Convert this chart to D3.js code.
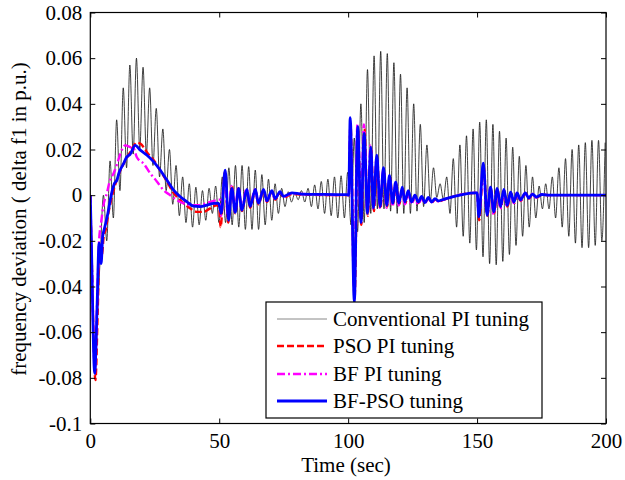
<!DOCTYPE html>
<html><head><meta charset="utf-8">
<script src="https://cdn.jsdelivr.net/npm/d3@7"></script>
<style>
body{margin:0;background:#fff}
svg{display:block}
text{font-family:"Liberation Serif","Times New Roman",serif;fill:#000}
</style>
</head><body>
<svg id="c" width="625" height="480"></svg>
<script>
// ---------------- data ----------------
const xTicks = [0, 50, 100, 150, 200];
const yTicks = [-0.1, -0.08, -0.06, -0.04, -0.02, 0, 0.02, 0.04, 0.06, 0.08];
const yTickLabels = ["-0.1", "-0.08", "-0.06", "-0.04", "-0.02", "0", "0.02", "0.04", "0.06", "0.08"];
const seriesNames = ["Conventional PI tuning", "PSO PI tuning", "BF PI tuning", "BF-PSO tuning"];
const xLabel = "Time (sec)";
const yLabel = "frequency deviation ( delta f1 in p.u.)";

// Conventional PI: initial dip, then oscillation extrema (sampled once per cycle)
const convStart = [[0, 0], [0.6, -0.035], [1.9, -0.078], [2.9, -0.05]];
const convPeriod = 2.56;
const convPeakT0 = 5.1;
const convTroughT0 = 3.82;
const convPeaks = [
  0.0, 0.015, 0.033, 0.047, 0.057, 0.060, 0.056, 0.047, 0.038, 0.029,
  0.020, 0.013, 0.008, 0.005, 0.0035, 0.002, 0.003, 0.004, 0.008, 0.012,
  0.013, 0.013, 0.0125, 0.011, 0.009, 0.007, 0.005, 0.003, 0.0015, 0.001,
  0.002, 0.003, 0.0045, 0.006, 0.007, 0.008, 0.0085, 0.010, 0.025, 0.040,
  0.055, 0.061, 0.063, 0.062, 0.058, 0.053, 0.047, 0.040, 0.031, 0.022,
  0.012, 0.005, 0.008, 0.016, 0.022, 0.026, 0.029, 0.032, 0.033, 0.031,
  0.028, 0.025, 0.021, 0.017, 0.013, 0.008, 0.004, 0.005, 0.008, 0.012,
  0.016, 0.020, 0.022, 0.023, 0.024, 0.024, 0.023
];
const convTroughs = [
  -0.028, -0.020, -0.010, 0.002, 0.012, 0.018, 0.020, 0.018, 0.013, 0.008,
  0.002, -0.004, -0.009, -0.012, -0.014, -0.013, -0.011, -0.008, -0.012, -0.012,
  -0.013, -0.014, -0.015, -0.015, -0.015, -0.013, -0.011, -0.008, -0.005, -0.003,
  -0.002, -0.003, -0.005, -0.006, -0.008, -0.009, -0.010, -0.010, -0.013, -0.016,
  -0.012, -0.008, -0.006, -0.006, -0.007, -0.008, -0.008, -0.008, -0.007, -0.005,
  -0.003, -0.001, -0.002, -0.008, -0.014, -0.018, -0.021, -0.024, -0.027, -0.030,
  -0.0305, -0.029, -0.026, -0.022, -0.018, -0.014, -0.010, -0.006, -0.006, -0.010,
  -0.014, -0.018, -0.021, -0.023, -0.023, -0.022, -0.020
];

// PSO PI tuning [time, value]
const psoPts = [
  [0,0],[0.4,-0.02],[2.0,-0.081],[2.9,-0.05],[3.6,-0.022],[4.5,-0.026],[5.2,-0.018],[6,-0.015],[7,-0.008],
  [8.1,-0.002],[9.5,0.004],[11,0.009],[13,0.014],[15,0.018],[16.5,0.021],[18,0.023],[19.5,0.0225],[20.7,0.021],
  [22.5,0.018],[24.6,0.0153],[27,0.011],[29.7,0.006],[32,0.0015],[34.9,-0.0022],[38.8,-0.0058],[41.3,-0.0073],
  [43.9,-0.0073],[46.5,-0.0058],[49,-0.0044],[50,-0.005],
  [50.5,-0.014],[52.2,0.010],[53.5,-0.012],[54.9,0.004],[56.2,-0.008],[57.5,0.003],[58.8,-0.007],[60.7,0.002],
  [62,-0.0055],[64,0.002],[65.2,-0.004],[67.2,0.002],[68.5,-0.003],[70.4,0.0015],[71.7,-0.002],[73.6,0.001],
  [75,-0.001],[78.2,0.0005],[82,0.0003],[99.5,0],
  [100.3,0],[100.9,0.031],[102.5,-0.045],[103.8,0.029],[105.1,-0.013],[106.3,0.029],[107.6,-0.009],[108.9,0.020],
  [110,-0.007],[111.2,0.016],[112.5,-0.006],[113.8,0.011],[115.1,-0.005],[116.2,0.008],[117.4,-0.004],[118.6,0.005],
  [119.8,-0.004],[121.1,0.003],[122.2,-0.0035],[123.4,0.0015],[124.7,-0.0035],[126,-0.0005],[127.3,-0.0035],
  [128.6,-0.001],[129.9,-0.0035],[131.2,-0.0012],[132.5,-0.0032],[133.8,-0.0018],[135.2,-0.0028],[136.6,-0.0022],
  [149.5,0.001],
  [150,0.001],[150.8,-0.011],[152.5,0.013],[154,-0.009],[155.3,0.003],[156.6,-0.008],[157.9,0.0025],[159.2,-0.0055],
  [160.5,0.002],[161.8,-0.005],[163.1,0.001],[164.4,-0.0035],[165.6,0.0008],[166.9,-0.0025],[168.9,0.0008],
  [170.1,-0.0015],[171.6,0.0005],[173.1,-0.001],[175.3,0.0002],[178,0],[200,0]
];

// BF PI tuning [time, value]
const bfPts = [
  [0,0],[0.4,-0.02],[1.8,-0.076],[2.7,-0.045],[3.4,-0.02],[4.2,-0.012],[5,-0.005],[6.5,0.0012],[7.5,0.006],
  [9,0.0095],[10.5,0.014],[11.6,0.018],[13.6,0.0218],[15.5,0.021],[16.8,0.0205],[18,0.0167],[20.7,0.0138],
  [23.3,0.0095],[25.8,0.006],[28.4,0.0022],[31,0],[33.6,-0.0022],[36.2,-0.0036],[38.8,-0.0044],[41.3,-0.0044],
  [43.9,-0.004],[46.5,-0.0029],[49,-0.0022],[50.2,-0.002],
  [50.7,-0.009],[52.1,0.008],[53.4,-0.010],[54.8,0.004],[56.1,-0.007],[57.4,0.0035],[58.7,-0.006],[60.6,0.003],
  [61.9,-0.0045],[63.9,0.0025],[65.1,-0.003],[67.1,0.002],[68.4,-0.0025],[70.3,0.0015],[71.6,-0.0015],[73.5,0.001],
  [75,-0.0005],[78.2,0.0008],[82,0.0005],[99.5,0],
  [100.2,0],[100.8,0.030],[102.3,-0.040],[103.6,0.031],[104.9,-0.010],[106.1,0.031],[107.4,-0.007],[108.7,0.022],
  [109.8,-0.006],[111,0.016],[112.3,-0.0055],[113.6,0.011],[114.9,-0.0055],[116,0.008],[117.2,-0.005],[118.4,0.005],
  [119.6,-0.0045],[120.9,0.0025],[122,-0.004],[123.2,0.001],[124.5,-0.004],[125.8,-0.001],[127.1,-0.004],
  [128.5,-0.0015],[129.8,-0.0035],[131.1,-0.0015],[132.4,-0.003],[133.7,-0.002],[135.1,-0.0028],[136.5,-0.0022],
  [149.5,0.001],
  [150,0.001],[150.7,-0.009],[152.3,0.012],[153.8,-0.008],[155.1,0.003],[156.4,-0.0085],[157.7,0.0025],[159,-0.006],
  [160.3,0.002],[161.6,-0.005],[162.9,0.001],[164.2,-0.0035],[165.4,0.001],[166.7,-0.0025],[168.7,0.001],
  [169.9,-0.0015],[171.4,0.0005],[172.9,-0.001],[175.1,0.0003],[178,0],[200,0]
];

// BF-PSO tuning [time, value]
const bfpsoPts = [
  [0,0],[0.4,-0.02],[1.7,-0.078],[2.6,-0.05],[3.4,-0.021],[4.2,-0.03],[4.8,-0.018],[5.4,-0.015],[6.8,-0.008],
  [8.1,0],[9.3,0.005],[10.3,0.0066],[11.2,0.010],[12.9,0.0138],[14,0.0165],[15.5,0.018],[17.4,0.0218],[19.4,0.0197],
  [22,0.0175],[24.6,0.0146],[27.1,0.011],[29.7,0.0066],[32.3,0.0022],[34.9,-0.0007],[37.5,-0.0029],[40,-0.0048],
  [42.6,-0.005],[45.2,-0.0044],[47.8,-0.0036],[49.7,-0.0035],
  [50.8,-0.008],[52.3,0.011],[53.6,-0.011],[54.9,0.003],[56.2,-0.0075],[57.5,0.003],[58.8,-0.0066],[60.7,0.0025],
  [62,-0.005],[64,0.0025],[65.2,-0.0035],[67.2,0.0025],[68.5,-0.0025],[70.4,0.002],[71.7,-0.0015],[73.6,0.0015],
  [74.9,-0.0005],[78.2,0.001],[82,0.0005],[99.5,0.0002],
  [100.2,0],[100.8,0.034],[102.4,-0.047],[103.7,0.030],[105,-0.012],[106.2,0.027],[107.5,-0.008],[108.8,0.021],
  [109.8,-0.0057],[111.1,0.0175],[112.4,-0.005],[113.7,0.012],[115,-0.0045],[116,0.0087],[117.3,-0.0035],
  [118.4,0.0057],[119.7,-0.0035],[121,0.0035],[122,-0.003],[123.3,0.002],[124.6,-0.003],[125.9,0],[127.2,-0.003],
  [128.5,-0.0005],[129.8,-0.0033],[131.1,-0.001],[132.4,-0.003],[133.7,-0.0015],[135,-0.0025],[136.5,-0.002],
  [149.5,0.001],
  [150,0.001],[150.7,-0.0095],[152.4,0.014],[153.9,-0.0088],[155.2,0.0035],[156.5,-0.0073],[157.8,0.003],
  [159.1,-0.005],[160.4,0.0025],[161.7,-0.0045],[163,0.0013],[164.3,-0.003],[165.5,0.001],[166.8,-0.002],
  [168.8,0.001],[170,-0.0013],[171.5,0.0005],[173,-0.0008],[175.2,0.0003],[178,0],[200,0]
];

// ---------------- chart ----------------
const L = 90.3, R = 606, T = 12.5, B = 423.5;
const svg = d3.select("#c");
const x = d3.scaleLinear().domain([0, 200]).range([L, R]);
const y = d3.scaleLinear().domain([-0.1, 0.08]).range([B, T]);

// assemble conventional series
const convExt = [];
convPeaks.forEach((v, i) => convExt.push([convPeakT0 + i * convPeriod, v]));
convTroughs.forEach((v, i) => convExt.push([convTroughT0 + i * convPeriod, v]));
convExt.sort((a, b) => a[0] - b[0]);
const convPts = convStart.concat(convExt);

svg.append("defs").append("clipPath").attr("id", "clip")
  .append("rect").attr("x", L).attr("y", T).attr("width", R - L).attr("height", B - T);

const line = d3.line().x(d => x(d[0])).y(d => y(d[1])).curve(d3.curveMonotoneX);

const styles = [
  {data: convPts, color: "#111", width: 0.8, dash: null},
  {data: psoPts, color: "#ff0000", width: 2.4, dash: "7,3"},
  {data: bfPts, color: "#ff00ff", width: 2.4, dash: "8,3,2,3"},
  {data: bfpsoPts, color: "#0000ff", width: 2.8, dash: null}
];

const g = svg.append("g").attr("clip-path", "url(#clip)");
styles.forEach(s => {
  g.append("path").datum(s.data)
    .attr("d", line)
    .attr("fill", "none")
    .attr("stroke", s.color)
    .attr("stroke-width", s.width)
    .attr("stroke-dasharray", s.dash)
    .attr("stroke-linejoin", "round");
});

// axes (ticks inward on all sides)
const fs = 21;
const axB = svg.append("g").attr("transform", `translate(0,${B})`)
  .call(d3.axisBottom(x).tickValues(xTicks).tickSizeInner(-5).tickSizeOuter(0).tickPadding(10).tickFormat(d3.format("d")));
const axT = svg.append("g").attr("transform", `translate(0,${T})`)
  .call(d3.axisTop(x).tickValues(xTicks).tickSizeInner(-5).tickSizeOuter(0).tickFormat(""));
const axL = svg.append("g").attr("transform", `translate(${L},0)`)
  .call(d3.axisLeft(y).tickValues(yTicks).tickSizeInner(-5).tickSizeOuter(0).tickPadding(8)
    .tickFormat((d, i) => yTickLabels[i]));
const axR = svg.append("g").attr("transform", `translate(${R},0)`)
  .call(d3.axisRight(y).tickValues(yTicks).tickSizeInner(-5).tickSizeOuter(0).tickFormat(""));

[axB, axT, axL, axR].forEach(a => {
  a.selectAll(".domain").remove();
  a.selectAll("line").attr("stroke", "#000").attr("stroke-width", 1);
  a.selectAll("text").attr("font-size", fs).attr("font-family", '"Liberation Serif", serif').attr("fill", "#000");
});

svg.append("rect").attr("x", L).attr("y", T).attr("width", R - L).attr("height", B - T)
  .attr("fill", "none").attr("stroke", "#000").attr("stroke-width", 1.2);

// axis labels
svg.append("text").attr("x", 346).attr("y", 472).attr("text-anchor", "middle")
  .attr("font-size", fs).text(xLabel);
svg.append("text").attr("transform", "translate(26,219) rotate(-90)").attr("text-anchor", "middle")
  .attr("font-size", fs).text(yLabel);

// legend
const lg = svg.append("g");
lg.append("rect").attr("x", 266).attr("y", 302).attr("width", 276).attr("height", 116)
  .attr("fill", "#fff").attr("stroke", "#000").attr("stroke-width", 1.2);
const rowY = [319, 346, 374, 401];
styles.forEach((s, i) => {
  lg.append("line").attr("x1", 277).attr("x2", 327).attr("y1", rowY[i]).attr("y2", rowY[i])
    .attr("stroke", i === 0 ? "#888" : s.color).attr("stroke-width", i === 0 ? 1 : s.width)
    .attr("stroke-dasharray", s.dash);
  lg.append("text").attr("x", 333).attr("y", rowY[i] + 7).attr("font-size", fs).text(seriesNames[i]);
});
</script>
</body></html>
